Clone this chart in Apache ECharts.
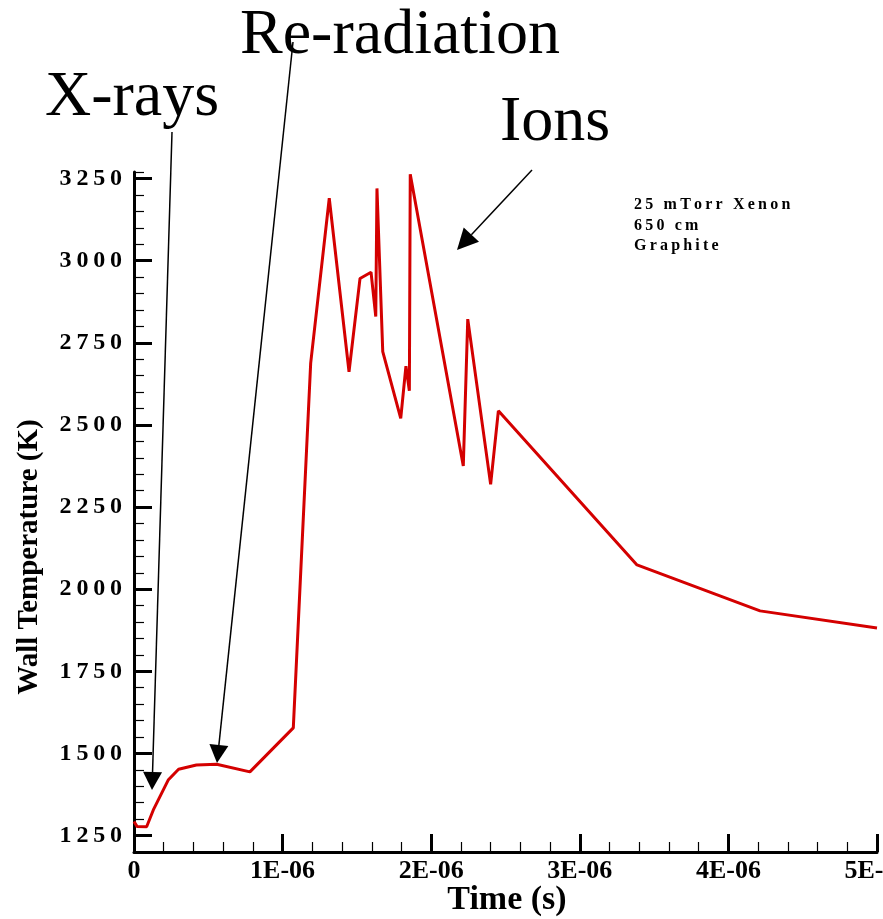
<!DOCTYPE html>
<html>
<head>
<meta charset="utf-8">
<script src="https://cdn.jsdelivr.net/npm/echarts@6/dist/echarts.min.js"></script>
<style>
html,body{margin:0;padding:0;background:#fff;}
#chart{width:883px;height:919px;}
</style>
</head>
<body>
<div id="chart"></div>
<script>
// Time in seconds
const timeS = [0, 0.02e-6, 0.085e-6, 0.13e-6, 0.23e-6, 0.30e-6, 0.42e-6, 0.556e-6, 0.78e-6, 1.072e-6,
  1.189e-6, 1.314e-6, 1.447e-6, 1.521e-6, 1.595e-6, 1.627e-6, 1.635e-6, 1.674e-6, 1.795e-6, 1.830e-6,
  1.853e-6, 1.859e-6, 2.216e-6, 2.246e-6, 2.400e-6, 2.452e-6, 3.385e-6, 4.213e-6, 5.0e-6];
// Wall temperature in K
const tempK = [1293, 1278, 1277, 1328, 1419, 1452, 1465, 1467, 1444, 1578,
  2688, 3190, 2662, 2946, 2965, 2830, 3220, 2723, 2520, 2679,
  2604, 3263, 2375, 2822, 2319, 2543, 2074, 1934, 1882];
const yMajorTicks = [1250, 1500, 1750, 2000, 2250, 2500, 2750, 3000, 3250];
const xTickLabels = ['0', '1E-06', '2E-06', '3E-06', '4E-06', '5E-06'];
const noteLines = ['25 mTorr Xenon', '650 cm', 'Graphite'];

const serif = '"Liberation Serif","Times New Roman",serif';
const chart = echarts.init(document.getElementById('chart'));
const data = timeS.map((t, i) => [t, tempK[i]]);
const spaced = s => s.split('').join('\u2009');

function arrow(x1, y1, x2, y2, hl, hw) {
  const dx = x2 - x1, dy = y2 - y1, L = Math.hypot(dx, dy);
  const ux = dx / L, uy = dy / L, px = -uy, py = ux;
  const bx = x2 - ux * hl, by = y2 - uy * hl;
  return [
    {type: 'line', shape: {x1, y1, x2: bx, y2: by}, style: {stroke: '#000', lineWidth: 1.5}, z: 10},
    {type: 'polygon', shape: {points: [[x2, y2], [bx + px * hw / 2, by + py * hw / 2], [bx - px * hw / 2, by - py * hw / 2]]},
      style: {fill: '#000'}, z: 10}
  ];
}

const yMin = 1200, yMax = 3270;
const option = {
  animation: false,
  backgroundColor: '#fff',
  grid: {left: 134, right: 6, top: 172, bottom: 67, containLabel: false, outerBoundsMode: 'none'},
  xAxis: {
    type: 'value', min: 0, max: 5e-6, interval: 1e-6,
    axisLine: {show: true, lineStyle: {color: '#000', width: 3}},
    axisTick: {show: true, inside: true, length: 18, lineStyle: {color: '#000', width: 3}},
    minorTick: {show: true, splitNumber: 5, length: 10, lineStyle: {color: '#000', width: 1.2}},
    splitLine: {show: false},
    axisLabel: {
      margin: 6, color: '#000', fontFamily: serif, fontWeight: 'bold', fontSize: 26,
      hideOverlap: false,
      formatter: v => xTickLabels[Math.round(v / 1e-6)]
    }
  },
  yAxis: [{
    type: 'value', min: yMin, max: yMax, interval: 50,
    axisLine: {show: true, lineStyle: {color: '#000', width: 3}},
    axisTick: {show: true, inside: true, length: 10, lineStyle: {color: '#000', width: 1.2}},
    axisLabel: {show: false},
    splitLine: {show: false}
  }, {
    type: 'value', min: yMin, max: yMax, position: 'left',
    axisLine: {show: false},
    axisTick: {show: true, inside: true, length: 18, customValues: yMajorTicks, lineStyle: {color: '#000', width: 3}},
    axisLabel: {
      show: true, customValues: yMajorTicks, margin: 12, color: '#000', fontFamily: serif, fontWeight: 'bold', fontSize: 24,
      formatter: v => String(v).split('').join('\u2009')
    },
    splitLine: {show: false}
  }],
  series: [{
    type: 'line', data: data, showSymbol: false, symbol: 'none',
    lineStyle: {color: '#d40000', width: 3}, z: 5
  }],
  graphic: [
    {type: 'text', x: 45, y: 98, style: {text: 'X-rays', font: '64px ' + serif, fill: '#000', verticalAlign: 'middle', align: 'left'}},
    {type: 'text', x: 240, y: 36, style: {text: 'Re-radiation', font: '64px ' + serif, fill: '#000', verticalAlign: 'middle', align: 'left'}},
    {type: 'text', x: 500, y: 123, style: {text: 'Ions', font: '64px ' + serif, fill: '#000', verticalAlign: 'middle', align: 'left'}},
    ...arrow(172, 132, 152, 790, 18, 19),
    ...arrow(293, 42, 217, 763, 18, 19),
    ...arrow(532, 170, 457, 250, 21, 21),
    ...noteLines.map((s, i) => ({type: 'text', x: 634, y: 205 + i * 20.5,
      style: {text: spaced(s), font: 'bold 16px ' + serif, fill: '#000', verticalAlign: 'middle', align: 'left'}})),
    {type: 'text', x: 30, y: 557, rotation: Math.PI / 2,
      style: {text: 'Wall Temperature (K)', font: 'bold 29px ' + serif, fill: '#000', verticalAlign: 'middle', align: 'center'}},
    {type: 'text', x: 507, y: 900,
      style: {text: 'Time (s)', font: 'bold 34px ' + serif, fill: '#000', verticalAlign: 'middle', align: 'center'}}
  ]
};
chart.setOption(option);
</script>
</body>
</html>
